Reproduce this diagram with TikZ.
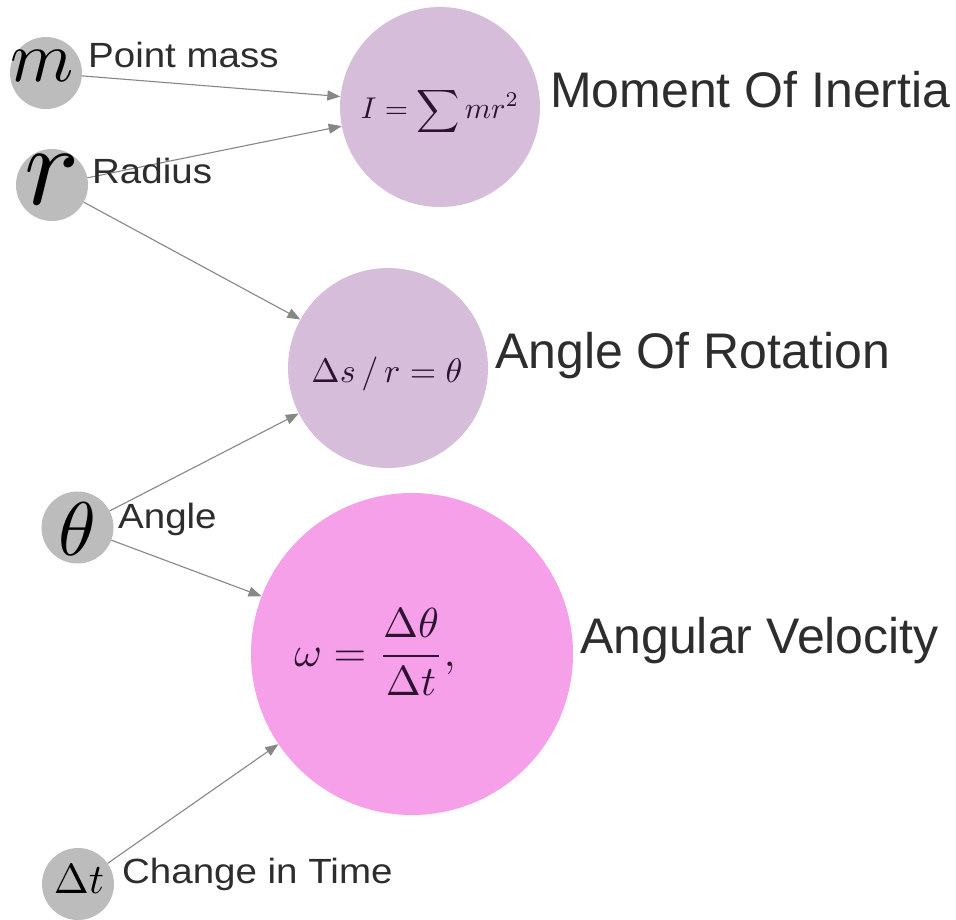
\documentclass[tikz,border=0pt]{standalone}
\usepackage{graphicx}
\usepackage{fontspec}
\setmainfont{Liberation Sans}
\newfontfamily\smalllabelfont[FakeStretch=1.1]{Liberation Sans}
\usetikzlibrary{arrows.meta}
\newcommand\scaledmath[2]{\scalebox{#1}{$#2$}}
\definecolor{greyfill}{RGB}{188,188,188}
\definecolor{lilac}{RGB}{214,190,218}
\definecolor{pinkfill}{RGB}{245,160,232}
\definecolor{linegrey}{RGB}{135,135,135}
\definecolor{labeltext}{RGB}{45,45,45}
\definecolor{formulatext}{RGB}{45,18,50}
\begin{document}
\begin{tikzpicture}[x=1pt,y=-1pt,
  var/.style={circle,fill=greyfill,minimum size=72pt,inner sep=0pt},
  concept/.style={circle,fill=lilac,minimum size=200pt,inner sep=0pt},
  glyph/.style={inner sep=0pt,text=black},
  formula/.style={inner sep=0pt,text=formulatext},
  conn/.style={draw=linegrey,line width=1.1pt,-{Triangle[length=13pt,width=10pt]}},
  smalllab/.style={anchor=base west,inner sep=0pt,text=labeltext,font=\smalllabelfont\fontsize{35}{40}\selectfont},
  biglab/.style={anchor=base west,inner sep=0pt,text=labeltext,font=\fontsize{50}{56}\selectfont},
]
\useasboundingbox (0,0) rectangle (956,919);
\fill[white] (0,0) rectangle (956,919);

% big concept circles
\node[concept] (moi) at (440,107) {};
\node[concept] (aor) at (388,368) {};
\node[concept,fill=pinkfill,minimum size=322pt] (av) at (412,654) {};

% variable circles
\node[var] (m) at (46,73) {};
\node[var] (r) at (52,185) {};
\node[var] (th) at (77.5,527.5) {};
\node[var] (dt) at (78,884) {};

% glyphs in variable circles
\node[glyph] (mglyph) at (42,66) {\scaledmath{7.2}{m}};
\node[glyph] (rglyph) at (52,180) {\scaledmath{11.5}{r}};
\node[glyph] (thglyph) at (77,529) {\scaledmath{7.6}{\theta}};
\node[glyph] (dtglyph) at (79,879) {\scaledmath{4.2}{\Delta t}};

% formulas
\node[formula] (moif) at (440,111) {\scaledmath{3.0}{I = \displaystyle\sum mr^2}};
\node[formula] (aorf) at (387,374) {\scaledmath{3.4}{\Delta s\,/\,r = \theta}};
\node[formula] (avf) at (375,652) {\scaledmath{4.2}{\displaystyle\omega = \frac{\Delta\theta}{\Delta t},}};

% connectors
\draw[conn] (m) -- (moi.174.4);
\draw[conn] (r) -- (moi.191.3);
\draw[conn] (r) -- (aor.151.4);
\draw[conn] (th) -- (aor.207.6);
\draw[conn] (th) -- (av.159.4);
\draw[conn] (dt) -- (av.214.6);

% small labels
\node[smalllab] (lpm) at (88,67) {Point mass};
\node[smalllab] (lrad) at (92,183) {Radius};
\node[smalllab] (lang) at (118,528) {Angle};
\node[smalllab] (lcit) at (122,883) {Change in Time};

% big labels
\node[biglab] (lmoi) at (550,107) {Moment Of Inertia};
\node[biglab] (laor) at (495,368) {Angle Of Rotation};
\node[biglab] (lav) at (580,653) {Angular Velocity};
\end{tikzpicture}
\end{document}
